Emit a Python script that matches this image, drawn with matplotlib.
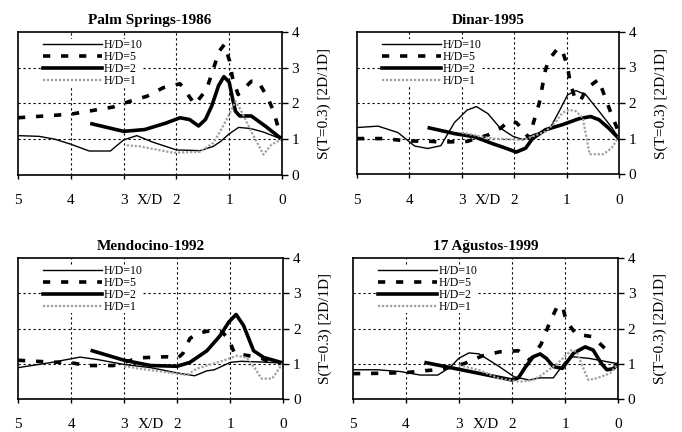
import matplotlib
matplotlib.use('Agg')
import matplotlib.pyplot as plt
import numpy as np

plt.rcParams['font.family'] = ['Liberation Serif', 'DejaVu Serif']

# --- data (X/D, S ratio) ---
titles = ['Palm Springs-1986', 'Dinar-1995', 'Mendocino-1992', '17 Ağustos-1999']
labels = ['H/D=10', 'H/D=5', 'H/D=2', 'H/D=1']
xticks = [5, 4, 3, 2, 1, 0]
yticks = [0, 1, 2, 3, 4]

# Palm Springs
ps_h10_x = [5, 4.6, 4.3, 4.0, 3.65, 3.25, 3.0, 2.75, 2.45, 2.0, 1.55, 1.3, 1.15, 1.0, 0.82, 0.6, 0.35, 0]
ps_h10_y = [1.1, 1.08, 1.0, 0.86, 0.67, 0.67, 0.98, 1.1, 0.92, 0.7, 0.68, 0.8, 0.95, 1.15, 1.33, 1.3, 1.2, 1.0]
ps_h5_x = [5, 4, 3.2, 2.8, 2.56, 2.25, 1.93, 1.71, 1.65, 1.43, 1.29, 1.2, 1.09, 0.99, 0.94, 0.83, 0.58, 0.45, 0.27, 0.16, 0.07, 0]
ps_h5_y = [1.6, 1.7, 1.9, 2.1, 2.2, 2.44, 2.55, 2.1, 1.97, 2.39, 3.0, 3.44, 3.65, 3.18, 2.74, 2.25, 2.62, 2.62, 2.16, 1.79, 1.32, 1.05]
ps_h2_x = [3.6, 3.0, 2.6, 2.2, 1.93, 1.75, 1.58, 1.45, 1.33, 1.2, 1.1, 1.0, 0.93, 0.88, 0.8, 0.58, 0.3, 0]
ps_h2_y = [1.43, 1.22, 1.27, 1.45, 1.6, 1.55, 1.37, 1.55, 1.93, 2.5, 2.75, 2.6, 2.1, 1.78, 1.65, 1.65, 1.35, 1.0]
ps_h1_x = [2.94, 2.69, 2.06, 1.55, 1.3, 1.17, 1.0, 0.88, 0.8, 0.55, 0.35, 0.2, 0]
ps_h1_y = [0.83, 0.8, 0.62, 0.65, 0.9, 1.22, 1.69, 2.06, 1.87, 1.13, 0.57, 0.85, 1.0]

# Dinar
di_h10_x = [5, 4.6, 4.22, 3.9, 3.65, 3.4, 3.14, 2.9, 2.72, 2.5, 2.27, 2.02, 1.83, 1.64, 1.33, 1.14, 0.98, 0.82, 0.63, 0.38, 0.13, 0]
di_h10_y = [1.31, 1.35, 1.17, 0.79, 0.72, 0.8, 1.45, 1.8, 1.9, 1.7, 1.3, 1.06, 0.97, 1.11, 1.25, 1.77, 2.23, 2.35, 2.23, 1.77, 1.3, 1.0]
di_h5_x = [5, 4.5, 4, 3.65, 3.4, 2.9, 2.5, 2.25, 2.1, 1.96, 1.86, 1.72, 1.6, 1.52, 1.41, 1.35, 1.16, 1.07, 0.98, 0.93, 0.84, 0.74, 0.61, 0.39, 0.27, 0.14, 0.04, 0]
di_h5_y = [1.0, 1.0, 0.93, 0.93, 0.9, 0.92, 1.1, 1.3, 1.5, 1.45, 1.3, 1.02, 1.6, 2.0, 2.88, 3.2, 3.55, 3.43, 3.02, 2.56, 2.14, 2.05, 2.42, 2.66, 2.19, 1.67, 1.31, 1.1]
di_h2_x = [3.62, 3.14, 2.76, 2.4, 2.2, 1.96, 1.78, 1.65, 1.4, 1.08, 0.76, 0.54, 0.38, 0.2, 0]
di_h2_y = [1.3, 1.14, 1.05, 0.85, 0.75, 0.62, 0.73, 1.0, 1.25, 1.39, 1.56, 1.62, 1.53, 1.3, 1.0]
di_h1_x = [3.0, 2.65, 2.38, 1.83, 1.4, 1.2, 1.08, 0.95, 0.82, 0.69, 0.56, 0.3, 0.14, 0]
di_h1_y = [1.17, 1.06, 1.0, 0.96, 1.2, 1.48, 1.72, 1.81, 1.77, 1.58, 0.56, 0.56, 0.73, 1.06]

# Mendocino
me_h10_x = [5, 4.4, 3.83, 3.5, 3.0, 2.5, 2.0, 1.67, 1.44, 1.3, 1.0, 0.8, 0.4, 0]
me_h10_y = [0.89, 1.03, 1.19, 1.12, 0.98, 0.89, 0.74, 0.66, 0.8, 0.83, 1.04, 1.07, 1.05, 1.02]
me_h5_x = [5, 4.4, 4, 3.7, 3.2, 2.71, 2.2, 1.98, 1.89, 1.76, 1.6, 1.35, 1.15, 1.03, 0.92, 0.62, 0.4, 0.18, 0]
me_h5_y = [1.1, 1.05, 1.03, 0.95, 0.95, 1.17, 1.2, 1.17, 1.3, 1.72, 1.87, 1.95, 1.9, 1.7, 1.3, 1.22, 1.15, 1.0, 1.02]
me_h2_x = [3.6, 3.0, 2.5, 2.0, 1.76, 1.44, 1.19, 1.03, 0.89, 0.75, 0.56, 0.37, 0]
me_h2_y = [1.37, 1.1, 0.95, 0.93, 1.04, 1.37, 1.8, 2.18, 2.4, 2.09, 1.37, 1.18, 1.02]
me_h1_x = [3.0, 2.71, 2.0, 1.82, 1.63, 1.44, 1.13, 0.87, 0.69, 0.53, 0.41, 0.21, 0.08, 0]
me_h1_y = [0.93, 0.86, 0.72, 0.68, 0.86, 0.95, 1.09, 1.23, 1.17, 0.86, 0.58, 0.58, 0.86, 1.05]

# 17 Agustos
ag_h10_x = [5, 4.54, 4.11, 3.73, 3.4, 3.17, 3.0, 2.81, 2.62, 2.24, 1.96, 1.68, 1.47, 1.22, 1.0, 0.85, 0.53, 0]
ag_h10_y = [0.83, 0.83, 0.78, 0.68, 0.68, 0.9, 1.16, 1.31, 1.28, 0.92, 0.63, 0.54, 0.6, 0.6, 1.05, 1.2, 1.15, 1.0]
ag_h5_x = [5, 4.5, 4.0, 3.67, 3.33, 2.89, 2.57, 2.23, 1.88, 1.66, 1.45, 1.29, 1.14, 1.04, 0.98, 0.79, 0.48, 0.39, 0.2, 0.12]
ag_h5_y = [0.72, 0.73, 0.75, 0.8, 0.84, 1.01, 1.22, 1.34, 1.37, 1.1, 1.56, 2.17, 2.65, 2.6, 2.22, 1.84, 1.77, 1.64, 1.37, 1.25]
ag_h2_x = [3.62, 2.0, 1.88, 1.75, 1.6, 1.47, 1.35, 1.22, 1.05, 0.84, 0.62, 0.47, 0.31, 0.21, 0.09, 0]
ag_h2_y = [1.03, 0.54, 0.6, 0.9, 1.2, 1.28, 1.15, 0.92, 0.87, 1.3, 1.48, 1.39, 1.0, 0.83, 0.86, 1.0]
ag_h1_x = [3.0, 2.62, 2.24, 1.86, 1.61, 1.47, 1.15, 0.88, 0.78, 0.69, 0.56, 0.4, 0.15, 0]
ag_h1_y = [0.96, 0.82, 0.58, 0.49, 0.54, 0.65, 1.0, 1.39, 1.34, 1.0, 0.54, 0.59, 0.73, 1.0]

panels = [
    [(ps_h10_x, ps_h10_y), (ps_h5_x, ps_h5_y), (ps_h2_x, ps_h2_y), (ps_h1_x, ps_h1_y)],
    [(di_h10_x, di_h10_y), (di_h5_x, di_h5_y), (di_h2_x, di_h2_y), (di_h1_x, di_h1_y)],
    [(me_h10_x, me_h10_y), (me_h5_x, me_h5_y), (me_h2_x, me_h2_y), (me_h1_x, me_h1_y)],
    [(ag_h10_x, ag_h10_y), (ag_h5_x, ag_h5_y), (ag_h2_x, ag_h2_y), (ag_h1_x, ag_h1_y)],
]

# line styles for the four H/D series
styles = [
    dict(color='black', lw=1.0, ls='-'),
    dict(color='black', lw=2.6, ls=(0, (2, 3))),
    dict(color='black', lw=2.6, ls='-'),
    dict(color='#a0a0a0', lw=1.6, ls=(0, (1, 0.8))),
]

# axes rectangles in figure fraction (left, bottom, width, height)
rects = [
    (0.0264, 0.595, 0.387, 0.331),
    (0.5235, 0.597, 0.384, 0.329),
    (0.0264, 0.0764, 0.389, 0.326),
    (0.5176, 0.0764, 0.3886, 0.326),
]

fig = plt.figure(figsize=(6.82, 4.32), dpi=100)

for i in range(4):
    ax = fig.add_axes(rects[i])
    for (xs, ys), st, lab in zip(panels[i], styles, labels):
        ax.plot(xs, ys, label=lab, **st)

    ax.set_xlim(5, 0)
    ax.set_ylim(0, 4)
    ax.set_xticks(xticks)
    ax.set_yticks(yticks)

    # dotted grid
    for g in [1, 2, 3, 4]:
        ax.axvline(g, color='black', lw=0.8, ls=(0, (2, 2.5)), zorder=0)
    for g in [1, 2, 3]:
        ax.axhline(g, color='black', lw=0.8, ls=(0, (2, 2.5)), zorder=0)

    for sp in ax.spines.values():
        sp.set_linewidth(1.2)

    ax.yaxis.tick_right()
    ax.yaxis.set_label_position('right')
    ax.tick_params(axis='y', direction='out', length=4, width=1, labelsize=11, pad=3)
    ax.tick_params(axis='x', direction='out', length=3, width=1, labelsize=11, pad=11)
    ax.set_ylabel('S(T=0.3) [2D/1D]', fontsize=11, labelpad=13)

    ax.annotate('X/D', xy=(2.5, 0), xycoords=('data', 'axes fraction'),
                xytext=(0, -14), textcoords='offset points',
                ha='center', va='top', fontsize=11)

    ax.set_title(titles[i], fontsize=11, fontweight='bold', pad=6)

    leg = ax.legend(loc='upper left', bbox_to_anchor=(0.095, 0.95), frameon=True,
                    fontsize=8.5, handlelength=5.0, handletextpad=0.1,
                    labelspacing=0.0, borderpad=0.0, borderaxespad=0)
    leg.get_frame().set_facecolor('white')
    leg.get_frame().set_edgecolor('none')
    leg.get_frame().set_alpha(1)

fig.savefig('out.png', dpi=100)
